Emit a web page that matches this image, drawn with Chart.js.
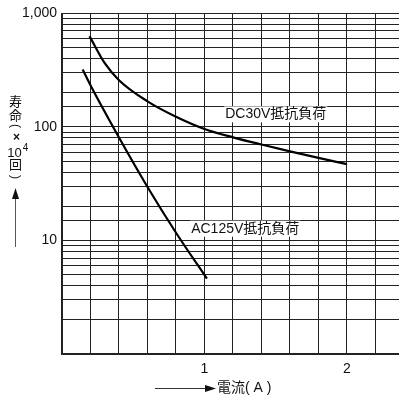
<!DOCTYPE html>
<html lang="ja">
<head>
    <meta charset="UTF-8">
    <title>寿命曲線</title>
    <script src="https://cdn.jsdelivr.net/npm/chart.js"></script>
    <style>
        body { margin: 0; background: #fff; }
        #wrap { width: 399px; height: 398px; }
    </style>
</head>
<body>
    <div id="wrap"><canvas id="lifeChart" width="399" height="398"></canvas></div>

    <script>
        // ---------- データ ----------
        const dcCurrent = [0.193, 0.3, 0.4, 0.6, 0.8, 1.0, 1.2, 1.4, 1.6, 1.8, 2.0];
        const dcLife = [631, 364, 258, 168, 123, 96, 81, 70, 61, 53.4, 47];

        const acCurrent = [0.145, 0.2, 0.4, 0.6, 0.8, 1.017];
        const acLife = [321, 233, 80.7, 29.6, 11.7, 4.61];

        const seriesNames = ['DC30V抵抗負荷', 'AC125V抵抗負荷'];
        const yTickLabels = { 10: '10', 100: '100', 1000: '1,000' };
        const xTickLabels = { 1: '1', 2: '2' };

        const FONT = '"Liberation Sans", Arial, "Noto Sans CJK JP", sans-serif';

        const toPoints = (xs, ys) => xs.map((x, i) => ({ x: x, y: ys[i] }));

        // 90度回転した文字（縦書きの括弧用）
        function rotatedText(ctx, text, x, y) {
            ctx.save();
            ctx.translate(x, y);
            ctx.rotate(Math.PI / 2);
            ctx.fillText(text, 0, 0);
            ctx.restore();
        }

        // ---------- 注記・軸タイトル ----------
        const notesPlugin = {
            id: 'notes',
            afterDraw(chart) {
                const ctx = chart.ctx;
                const xs = chart.scales.x, ys = chart.scales.y;
                ctx.save();
                ctx.fillStyle = '#111';
                ctx.textBaseline = 'middle';

                // 曲線のラベル
                ctx.font = '14px ' + FONT;
                ctx.textAlign = 'center';
                const labels = [
                    { text: seriesNames[0], x: 1.5, y: 129 },
                    { text: seriesNames[1], x: 1.286, y: 12.7 }
                ];
                labels.forEach(l => {
                    const px = xs.getPixelForValue(l.x);
                    const py = ys.getPixelForValue(l.y);
                    const w = ctx.measureText(l.text).width;
                    ctx.fillStyle = '#fff';
                    ctx.fillRect(px - w / 2 - 1, py - 8, w + 2, 16);
                    ctx.fillStyle = '#111';
                    ctx.fillText(l.text, px, py);
                });

                // 縦軸タイトル 寿命(×10^4回)
                const cx = 15.5;
                ctx.font = '13px ' + FONT;
                ctx.fillText('寿', cx, 102);
                ctx.fillText('命', cx, 116);
                ctx.font = '12px ' + FONT;
                rotatedText(ctx, '(', cx, 126);
                ctx.font = 'bold 12px ' + FONT;
                ctx.fillText('×', cx + 1, 138);
                ctx.font = '13px ' + FONT;
                ctx.fillText('10', cx - 1, 153);
                ctx.font = '10px ' + FONT;
                ctx.fillText('4', 25.5, 148);
                ctx.font = '13px ' + FONT;
                ctx.fillText('回', cx, 165.5);
                ctx.font = '12px ' + FONT;
                rotatedText(ctx, ')', cx, 177);

                // 上向き矢印
                ctx.strokeStyle = '#555';
                ctx.lineWidth = 1;
                ctx.beginPath();
                ctx.moveTo(cx, 247);
                ctx.lineTo(cx, 196);
                ctx.stroke();
                ctx.beginPath();
                ctx.moveTo(cx, 188);
                ctx.lineTo(cx - 3.5, 199);
                ctx.lineTo(cx + 3.5, 199);
                ctx.closePath();
                ctx.fillStyle = '#111';
                ctx.fill();

                // 横軸タイトル 電流(A)
                const cy = 388.5;
                ctx.strokeStyle = '#333';
                ctx.beginPath();
                ctx.moveTo(155, cy);
                ctx.lineTo(208, cy);
                ctx.stroke();
                ctx.beginPath();
                ctx.moveTo(216, cy);
                ctx.lineTo(205, cy - 3.5);
                ctx.lineTo(205, cy + 3.5);
                ctx.closePath();
                ctx.fill();
                ctx.textAlign = 'left';
                ctx.font = '14px ' + FONT;
                ctx.fillText('電流( A )', 217, cy);

                ctx.restore();
            }
        };

        // ---------- グラフ ----------
        const lineStyle = {
            borderColor: '#000',
            borderWidth: 2.2,
            pointRadius: 0,
            cubicInterpolationMode: 'monotone',
            fill: false
        };

        new Chart(document.getElementById('lifeChart'), {
            type: 'line',
            data: {
                datasets: [
                    { label: seriesNames[0], data: toPoints(dcCurrent, dcLife), ...lineStyle },
                    { label: seriesNames[1], data: toPoints(acCurrent, acLife), ...lineStyle }
                ]
            },
            options: {
                responsive: false,
                animation: false,
                layout: { padding: { top: 13, right: 0, left: 0, bottom: 0 } },
                plugins: {
                    legend: { display: false },
                    tooltip: { enabled: false }
                },
                scales: {
                    x: {
                        type: 'linear',
                        min: 0,
                        max: 2.365,
                        afterFit(scale) { scale.height = 44; },
                        border: { color: '#222', width: 1.5 },
                        grid: { color: '#222', lineWidth: 1, drawTicks: false },
                        ticks: {
                            stepSize: 0.2,
                            includeBounds: false,
                            autoSkip: false,
                            maxRotation: 0,
                            padding: 7,
                            color: '#111',
                            font: { family: FONT, size: 14 },
                            callback: v => {
                                const r = Math.round(v);
                                return Math.abs(v - r) < 1e-6 && xTickLabels[r] ? xTickLabels[r] : '';
                            }
                        }
                    },
                    y: {
                        type: 'logarithmic',
                        min: 1,
                        max: 1000,
                        afterFit(scale) { scale.width = 62; },
                        border: { color: '#222', width: 1.5 },
                        grid: { color: '#222', lineWidth: 1, drawTicks: false },
                        ticks: {
                            autoSkip: false,
                            padding: 5,
                            color: '#111',
                            font: { family: FONT, size: 14 },
                            callback: v => yTickLabels[v] || ''
                        }
                    }
                }
            },
            plugins: [notesPlugin]
        });
    </script>
</body>
</html>
